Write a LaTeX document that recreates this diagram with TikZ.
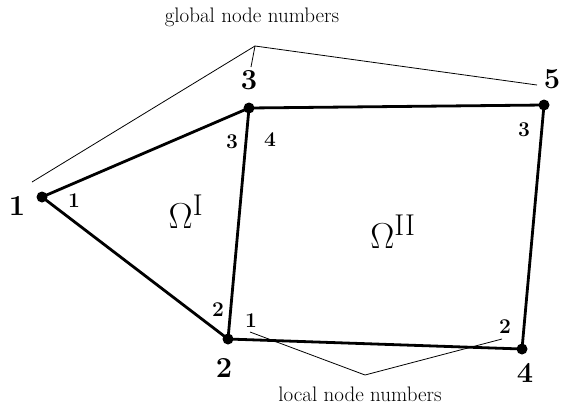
\documentclass[tikz,border=0pt]{standalone}
\usepackage{amsmath}
\usepackage{amssymb}
\usepackage{graphicx}
\usetikzlibrary{positioning}

\begin{document}
\begin{tikzpicture}[x=1pt, y=-1pt, thick]
    \tikzset{dot/.style={circle, fill, inner sep=0pt, minimum size=11pt},
        glob/.style={font=\fontsize{29}{29}\selectfont\bfseries},
        loc/.style={font=\fontsize{21}{21}\selectfont\bfseries},
        dom/.style={font=\Huge},
        edge/.style={line width=2.8pt},
        lead/.style={line width=0.8pt}}
    \useasboundingbox (0,0) rectangle (561,405);

    \node[dot] (n1) at (42, 197) {};
    \node[dot] (n2) at (228, 339) {};
    \node[dot] (n3) at (249, 108) {};
    \node[dot] (n4) at (522, 349) {};
    \node[dot] (n5) at (544, 105) {};

    \draw[edge] (n1.center) -- (n3.center) -- (n5.center) -- (n4.center) -- (n2.center) -- (n1.center);
    \draw[edge] (n3.center) -- (n2.center);

    % global numbers
    \node[glob] (g1) at (17, 206) {1};
    \node[glob] (g2) at (224, 368) {2};
    \node[glob] (g3) at (249, 80) {3};
    \node[glob] (g4) at (525, 373) {4};
    \node[glob] (g5) at (552, 79) {5};

    % local numbers
    \node[loc] (a1) at (74, 201) {1};
    \node[loc] (a2) at (218, 310) {2};
    \node[loc] (a3) at (232, 142) {3};
    \node[loc] (b1) at (251, 321) {1};
    \node[loc] (b2) at (505, 327) {2};
    \node[loc] (b3) at (524, 130) {3};
    \node[loc] (b4) at (270, 140) {4};

    \node[dom] (om1) at (186, 212) {\scalebox{1.45}{$\Omega^{\mathrm{I}}$}};
    \node[dom] (om2) at (393, 232) {\scalebox{1.45}{$\Omega^{\mathrm{II}}$}};

    % leader lines
    \node[font=\fontsize{21}{21}\selectfont] (gtext) at (252, 17) {global node numbers};
    \node[font=\fontsize{21}{21}\selectfont] (ltext) at (360, 394) {local node numbers};
    \coordinate (gtop) at (255, 46);
    \coordinate (gl) at (32, 182);
    \coordinate (gm) at (251, 67);
    \coordinate (gr) at (537, 85);
    \coordinate (lbot) at (365, 375);
    \coordinate (ll) at (250, 332);
    \coordinate (lr) at (502, 339);
    \draw[lead] (gl) -- (gtop) -- (gr);
    \draw[lead] (gtop) -- (gm);
    \draw[lead] (ll) -- (lbot) -- (lr);
\end{tikzpicture}
\end{document}
